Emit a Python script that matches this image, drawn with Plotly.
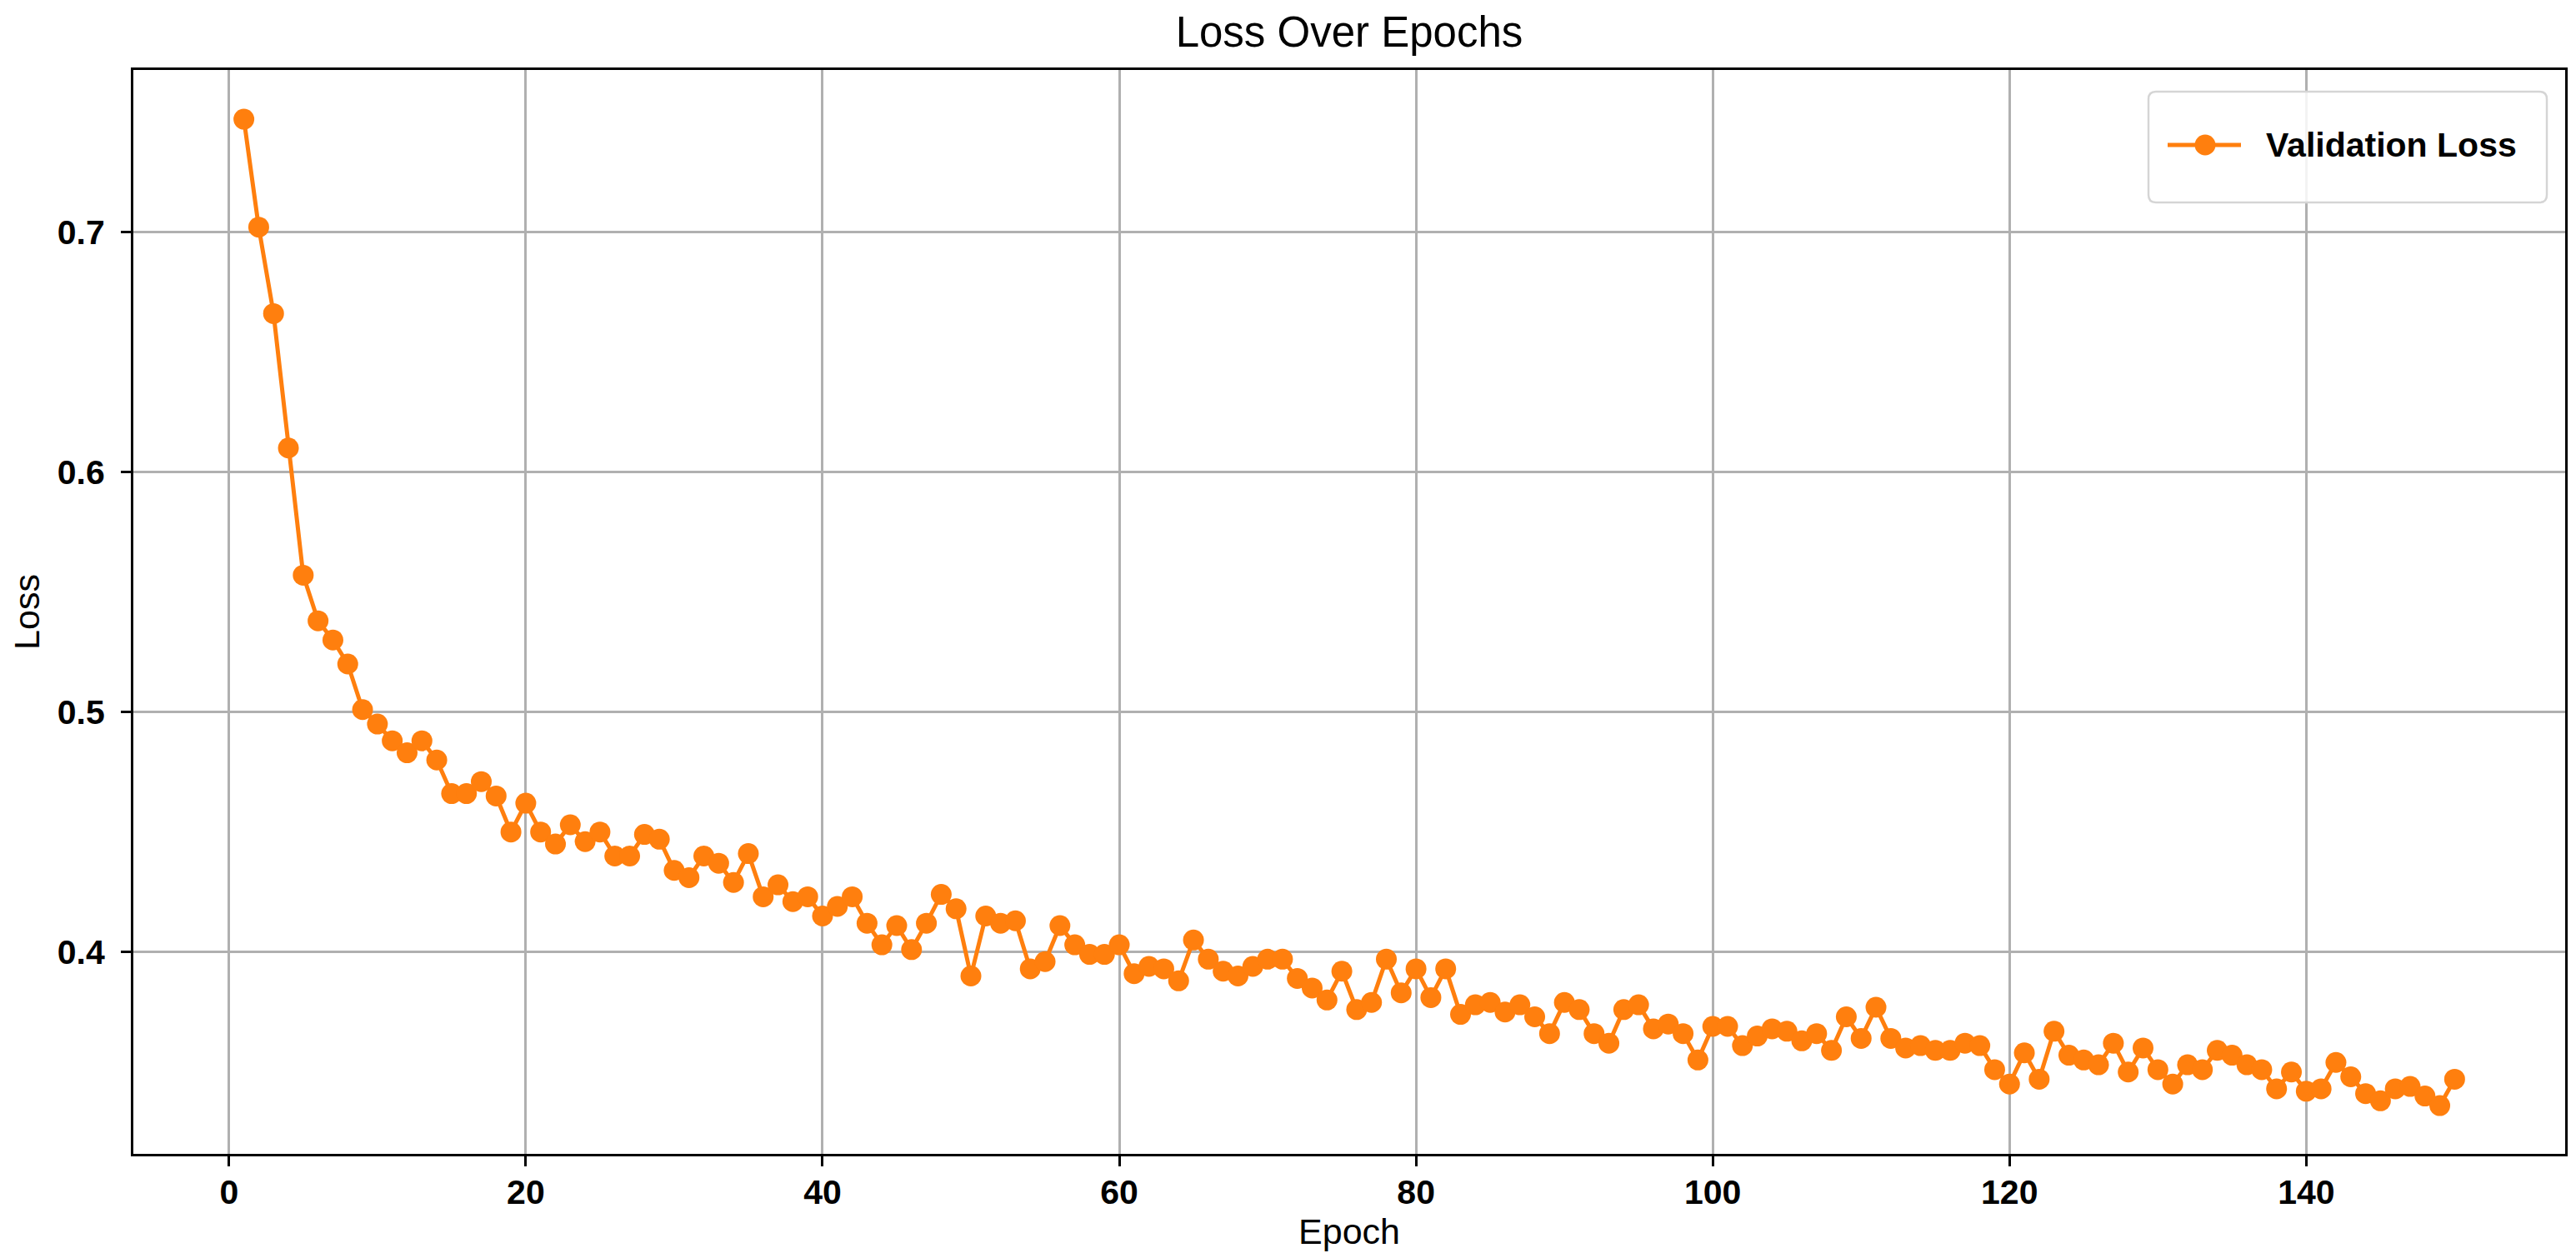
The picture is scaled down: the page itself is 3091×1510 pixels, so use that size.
import plotly.graph_objects as go

# ---- data ----
epochs = list(range(1, 151))
val_loss = [
    0.747, 0.702, 0.666, 0.610, 0.557, 0.538, 0.530, 0.520, 0.501, 0.495,
    0.488, 0.483, 0.488, 0.480, 0.466, 0.466, 0.471, 0.465, 0.450, 0.462,
    0.450, 0.445, 0.453, 0.446, 0.450, 0.440, 0.440, 0.449, 0.447, 0.434,
    0.431, 0.440, 0.437, 0.429, 0.441, 0.423, 0.428, 0.421, 0.423, 0.415,
    0.419, 0.423, 0.412, 0.403, 0.411, 0.401, 0.412, 0.424, 0.418, 0.390,
    0.415, 0.412, 0.413, 0.393, 0.396, 0.411, 0.403, 0.399, 0.399, 0.403,
    0.391, 0.394, 0.393, 0.388, 0.405, 0.397, 0.392, 0.390, 0.394, 0.397,
    0.397, 0.389, 0.385, 0.380, 0.392, 0.376, 0.379, 0.397, 0.383, 0.393,
    0.381, 0.393, 0.374, 0.378, 0.379, 0.375, 0.378, 0.373, 0.366, 0.379,
    0.376, 0.366, 0.362, 0.376, 0.378, 0.368, 0.370, 0.366, 0.355, 0.369,
    0.369, 0.361, 0.365, 0.368, 0.367, 0.363, 0.366, 0.359, 0.373, 0.364,
    0.377, 0.364, 0.360, 0.361, 0.359, 0.359, 0.362, 0.361, 0.351, 0.345,
    0.358, 0.347, 0.367, 0.357, 0.355, 0.353, 0.362, 0.350, 0.360, 0.351,
    0.345, 0.353, 0.351, 0.359, 0.357, 0.353, 0.351, 0.343, 0.350, 0.342,
    0.343, 0.354, 0.348, 0.341, 0.338, 0.343, 0.344, 0.340, 0.336, 0.347,
]
series_name = "Validation Loss"
x_ticks = [0, 20, 40, 60, 80, 100, 120, 140]
y_ticks = [0.4, 0.5, 0.6, 0.7]
y_tick_labels = ["0.4", "0.5", "0.6", "0.7"]

ORANGE = "#ff7f0e"
FONT = "Liberation Sans, Arial, Helvetica, sans-serif"
LINE_W = 5
MARKER_D = 25

fig = go.Figure()
fig.add_trace(go.Scatter(
    x=epochs, y=val_loss, mode="lines+markers", name=series_name,
    line=dict(color=ORANGE, width=LINE_W),
    marker=dict(color=ORANGE, size=MARKER_D, line=dict(width=0)),
    showlegend=False,
))

# plot-area geometry (pixels)
W, H = 3091, 1510
L, R, T, B = 152, 21, 76, 133
pw, ph = W - L - R, H - T - B

def px_x(p):
    return (p - L) / pw

def px_y(p):
    return (H - B - p) / ph

# ---- legend (drawn: rounded frame, line sample, marker, label) ----
x0, x1 = px_x(2570), px_x(3048)
y0, y1 = px_y(235), px_y(102)
rx, ry = 9 / pw, 9 / ph
path = (f"M {x0+rx},{y1} L {x1-rx},{y1} Q {x1},{y1} {x1},{y1-ry} "
        f"L {x1},{y0+ry} Q {x1},{y0} {x1-rx},{y0} L {x0+rx},{y0} "
        f"Q {x0},{y0} {x0},{y0+ry} L {x0},{y1-ry} Q {x0},{y1} {x0+rx},{y1} Z")
fig.add_shape(type="path", path=path, xref="paper", yref="paper",
              line=dict(color="#d5d5d5", width=2.5),
              fillcolor="rgba(255,255,255,0.85)", layer="above")
ly = px_y(166)
fig.add_shape(type="line", xref="paper", yref="paper",
              x0=px_x(2593), x1=px_x(2681), y0=ly, y1=ly,
              line=dict(color=ORANGE, width=LINE_W), layer="above")
rr = MARKER_D / 2
fig.add_shape(type="circle", xref="paper", yref="paper",
              x0=px_x(2638 - rr), x1=px_x(2638 + rr),
              y0=px_y(166 + rr), y1=px_y(166 - rr),
              line=dict(width=0), fillcolor=ORANGE, layer="above")
fig.add_annotation(text=series_name, xref="paper", yref="paper",
                   x=px_x(2709), y=ly, xanchor="left", yanchor="middle",
                   showarrow=False,
                   font=dict(size=41, family=FONT, color="black", weight="bold"))

fig.update_layout(
    width=W, height=H,
    margin=dict(l=L, r=R, t=T, b=B, autoexpand=False),
    paper_bgcolor="white", plot_bgcolor="white",
    font=dict(family=FONT, color="black"),
    title=dict(text="Loss Over Epochs", x=0.5, xref="paper", xanchor="center",
               y=1 - 30 / H, yref="container", yanchor="middle",
               font=dict(size=51, family=FONT, color="black")),
    showlegend=False,
    xaxis=dict(
        range=[-6.45, 157.45], tickmode="array", tickvals=x_ticks,
        ticks="outside", ticklen=12, tickwidth=2.5, tickcolor="black",
        ticklabelstandoff=-4,
        tickfont=dict(size=41, family=FONT, color="black", weight="bold"),
        showgrid=True, gridcolor="#b0b0b0", gridwidth=2.5,
        showline=True, linecolor="black", linewidth=3, mirror=True,
        zeroline=False,
        title=dict(text="Epoch", font=dict(size=43, family=FONT, color="black"), standoff=0),
    ),
    yaxis=dict(
        range=[0.3159, 0.7675], tickmode="array", tickvals=y_ticks, ticktext=y_tick_labels,
        ticks="outside", ticklen=12, tickwidth=2.5, tickcolor="black",
        ticklabelstandoff=11,
        tickfont=dict(size=41, family=FONT, color="black", weight="bold"),
        showgrid=True, gridcolor="#b0b0b0", gridwidth=2.5,
        showline=True, linecolor="black", linewidth=3, mirror=True,
        zeroline=False,
        title=dict(text="Loss", font=dict(size=43, family=FONT, color="black"), standoff=8),
    ),
)

fig.write_html("out.html")
